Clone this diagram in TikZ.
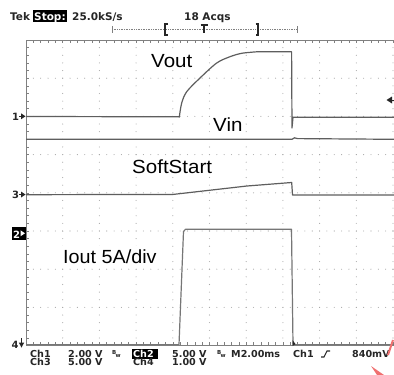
\documentclass[tikz,border=0pt]{standalone}
\usepackage{graphicx}
\usepackage{fontspec}
\setmainfont{Liberation Sans}
\newfontfamily\tekfont{DejaVu Sans}
\usetikzlibrary{arrows.meta}
\definecolor{trace}{HTML}{5E5E5E}
\definecolor{gridc}{HTML}{A8A8A8}
\definecolor{frame}{HTML}{808080}
\definecolor{tektext}{HTML}{262626}
\definecolor{redmark}{HTML}{F07070}
\tikzset{
  tr/.style={draw=trace, line width=1.2pt, line join=round},
  lbl/.style={font=\fontsize{19}{19}\selectfont, fill=white, inner sep=3pt, anchor=base west, text=black},
  hdr/.style={font=\tekfont\bfseries\fontsize{10.5}{10.5}\selectfont, inner sep=0pt, anchor=base west, text=tektext},
  ftr/.style={font=\tekfont\bfseries\fontsize{9.6}{9.6}\selectfont, inner sep=0pt, anchor=base west, text=tektext},
  inv/.style={font=\tekfont\bfseries\fontsize{9.6}{9.6}\selectfont, inner sep=0pt, anchor=base west, text=white},
  chm/.style={font=\tekfont\bfseries\fontsize{10}{10}\selectfont, inner sep=0pt, anchor=base west, text=tektext}
}
\begin{document}
\begin{tikzpicture}[x=1pt,y=-1pt]
\useasboundingbox (0,0) rectangle (394,375);
\fill[white] (0,0) rectangle (394,375);

% dotted grid
\foreach \k in {1,...,7}{
  \foreach \j in {1,...,50}{
    \fill[gridc] ({26+\j*7.34},{40+\k*38.2}) circle (0.55);
  }
}
\foreach \k in {1,...,10}{
  \foreach \j in {1,...,39}{
    \fill[gridc] ({26+\k*36.7},{40+\j*7.64}) circle (0.55);
  }
}
% frame and ticks
\draw[frame, line width=1pt] (394,40) -- (26,40) -- (26,345) -- (394,345);
\foreach \j in {1,...,50}{
  \draw[frame, line width=0.6pt] ({26+\j*7.34},40) -- ({26+\j*7.34},43);
  \draw[frame, line width=0.6pt] ({26+\j*7.34},345) -- ({26+\j*7.34},342);
}
\foreach \j in {1,...,39}{
  \draw[frame, line width=0.6pt] (26,{40+\j*7.64}) -- (29,{40+\j*7.64});
}

% labels
\node[lbl] (vout) at (148,67) {\scalebox{1.08}[1]{Vout}};
\node[lbl] (vin) at (210,131) {\scalebox{1.08}[1]{Vin}};
\node[lbl] (ss) at (129,173) {\scalebox{1.08}[1]{SoftStart}};
\node[lbl] (iout) at (60,263) {\scalebox{1.04}[1]{Iout 5A/div}};

% traces
\draw[tr] (26,116.5) -- (179,116.8) -- plot[smooth] coordinates {(179.3,117) (181.7,103) (186.7,91.7) (200,78) (216.7,63) (230,56.7) (241.7,53.3) (256.7,51.8)} -- (291.6,51.8) -- (292,128) -- (293,117.3) -- (394,117.3);
\draw[tr] (26,139.3) -- (292,139.3) -- (294.5,137.8) -- (297.5,138.6) -- (394,139.3);
\draw[tr] (26,194.7) -- (173.3,194.4) -- (247,186) -- (291.7,182.5) -- (292.5,195) -- (394,195);
\draw[tr, draw=trace!85] (26,344.6) -- (179,344.6) -- (183.5,231.5) -- (185.5,229.3) -- (291.5,229.3) -- (293,344.6) -- (394,344.6);
\fill[tektext] (292.5,340) -- (295.5,344) -- (292.5,346) -- cycle;

% trigger level marker
\fill[tektext] (386.5,100) -- (392,96.5) -- (392,103.5) -- cycle;
\draw[tektext, line width=1pt] (391,100) -- (394,100);

% channel markers
\node[chm] (m1) at (12,120.5) {1};
\fill[tektext] (25.5,116.3) -- (21,113.3) -- (21,119.3) -- cycle;
\draw[tektext, line width=0.8pt] (19,116.3) -- (22,116.3);
\node[chm] (m3) at (12,198.7) {3};
\fill[tektext] (25.5,194.5) -- (21,191.5) -- (21,197.5) -- cycle;
\draw[tektext, line width=0.8pt] (19,194.5) -- (22,194.5);
\fill[black] (11.5,227) rectangle (26,240);
\node[chm, text=white] (m2) at (13,238) {2};
\fill[white] (25,233.3) -- (20.5,230.3) -- (20.5,236.3) -- cycle;
\node[chm] (m4) at (11.5,348) {4};
\draw[tektext, line width=0.8pt] (21.5,338) -- (21.5,344);
\fill[tektext] (21.5,347.5) -- (18.8,342.5) -- (24.2,342.5) -- cycle;

% header
\node[hdr] (tek) at (10,20) {Tek};
\fill[black] (33,9.5) rectangle (66.5,22);
\node[hdr, text=white] (stop) at (34,20) {Stop:};
\node[hdr] (rate) at (72,20) {25.0kS/s};
\node[hdr] (acq) at (184,20) {18 Acqs};
\draw[frame, line width=0.7pt, densely dotted] (112,29.5) -- (297,29.5);
\draw[frame, line width=0.7pt] (112,26) -- (112,33) (297,26) -- (297,33);
\draw[tektext, line width=1.1pt] (167.5,24) -- (165,24) -- (165,35) -- (167.5,35);
\draw[tektext, line width=1.1pt] (255.5,24) -- (258,24) -- (258,35) -- (255.5,35);
\draw[tektext, line width=1.1pt] (200.5,25) -- (207.5,25) (204,25) -- (204,33);

% footer
\node[ftr] (c1) at (30,357) {Ch1};
\node[ftr] (v1) at (68,357) {2.00 V};
\node[font=\tekfont\bfseries\fontsize{5.5}{5.5}\selectfont, inner sep=0pt, anchor=base west, text=tektext] (bw1) at (112,354) {B};
\node[font=\tekfont\bfseries\fontsize{5.5}{5.5}\selectfont, inner sep=0pt, anchor=base west, text=tektext] (bw1b) at (115.5,357.5) {w};
\fill[black] (132,349) rectangle (157.5,358.5);
\node[inv] (c2) at (133,357) {Ch2};
\node[ftr] (v2) at (172,357) {5.00 V};
\node[font=\tekfont\bfseries\fontsize{5.5}{5.5}\selectfont, inner sep=0pt, anchor=base west, text=tektext] (bw2) at (217,354) {B};
\node[font=\tekfont\bfseries\fontsize{5.5}{5.5}\selectfont, inner sep=0pt, anchor=base west, text=tektext] (bw2b) at (220.5,357.5) {w};
\node[ftr] (tb) at (231,357) {M2.00ms};
\node[ftr] (tc) at (293,357) {Ch1};
\draw[tektext, line width=1.1pt] (321,357) -- (324,357) -- (327,351) -- (330,351);
\node[ftr] (tl) at (352,357) {840mV};
\node[ftr] (c3) at (30,365.5) {Ch3};
\node[ftr] (v3) at (68,365.5) {5.00 V};
\node[ftr] (c4) at (133,365.5) {Ch4};
\node[ftr] (v4) at (172,365.5) {1.00 V};

% red mark
\draw[redmark, line width=2pt] (388,355) -- (393,340);
\fill[redmark] (371,366) -- (377,375) -- (384,375) -- cycle;
\end{tikzpicture}
\end{document}
